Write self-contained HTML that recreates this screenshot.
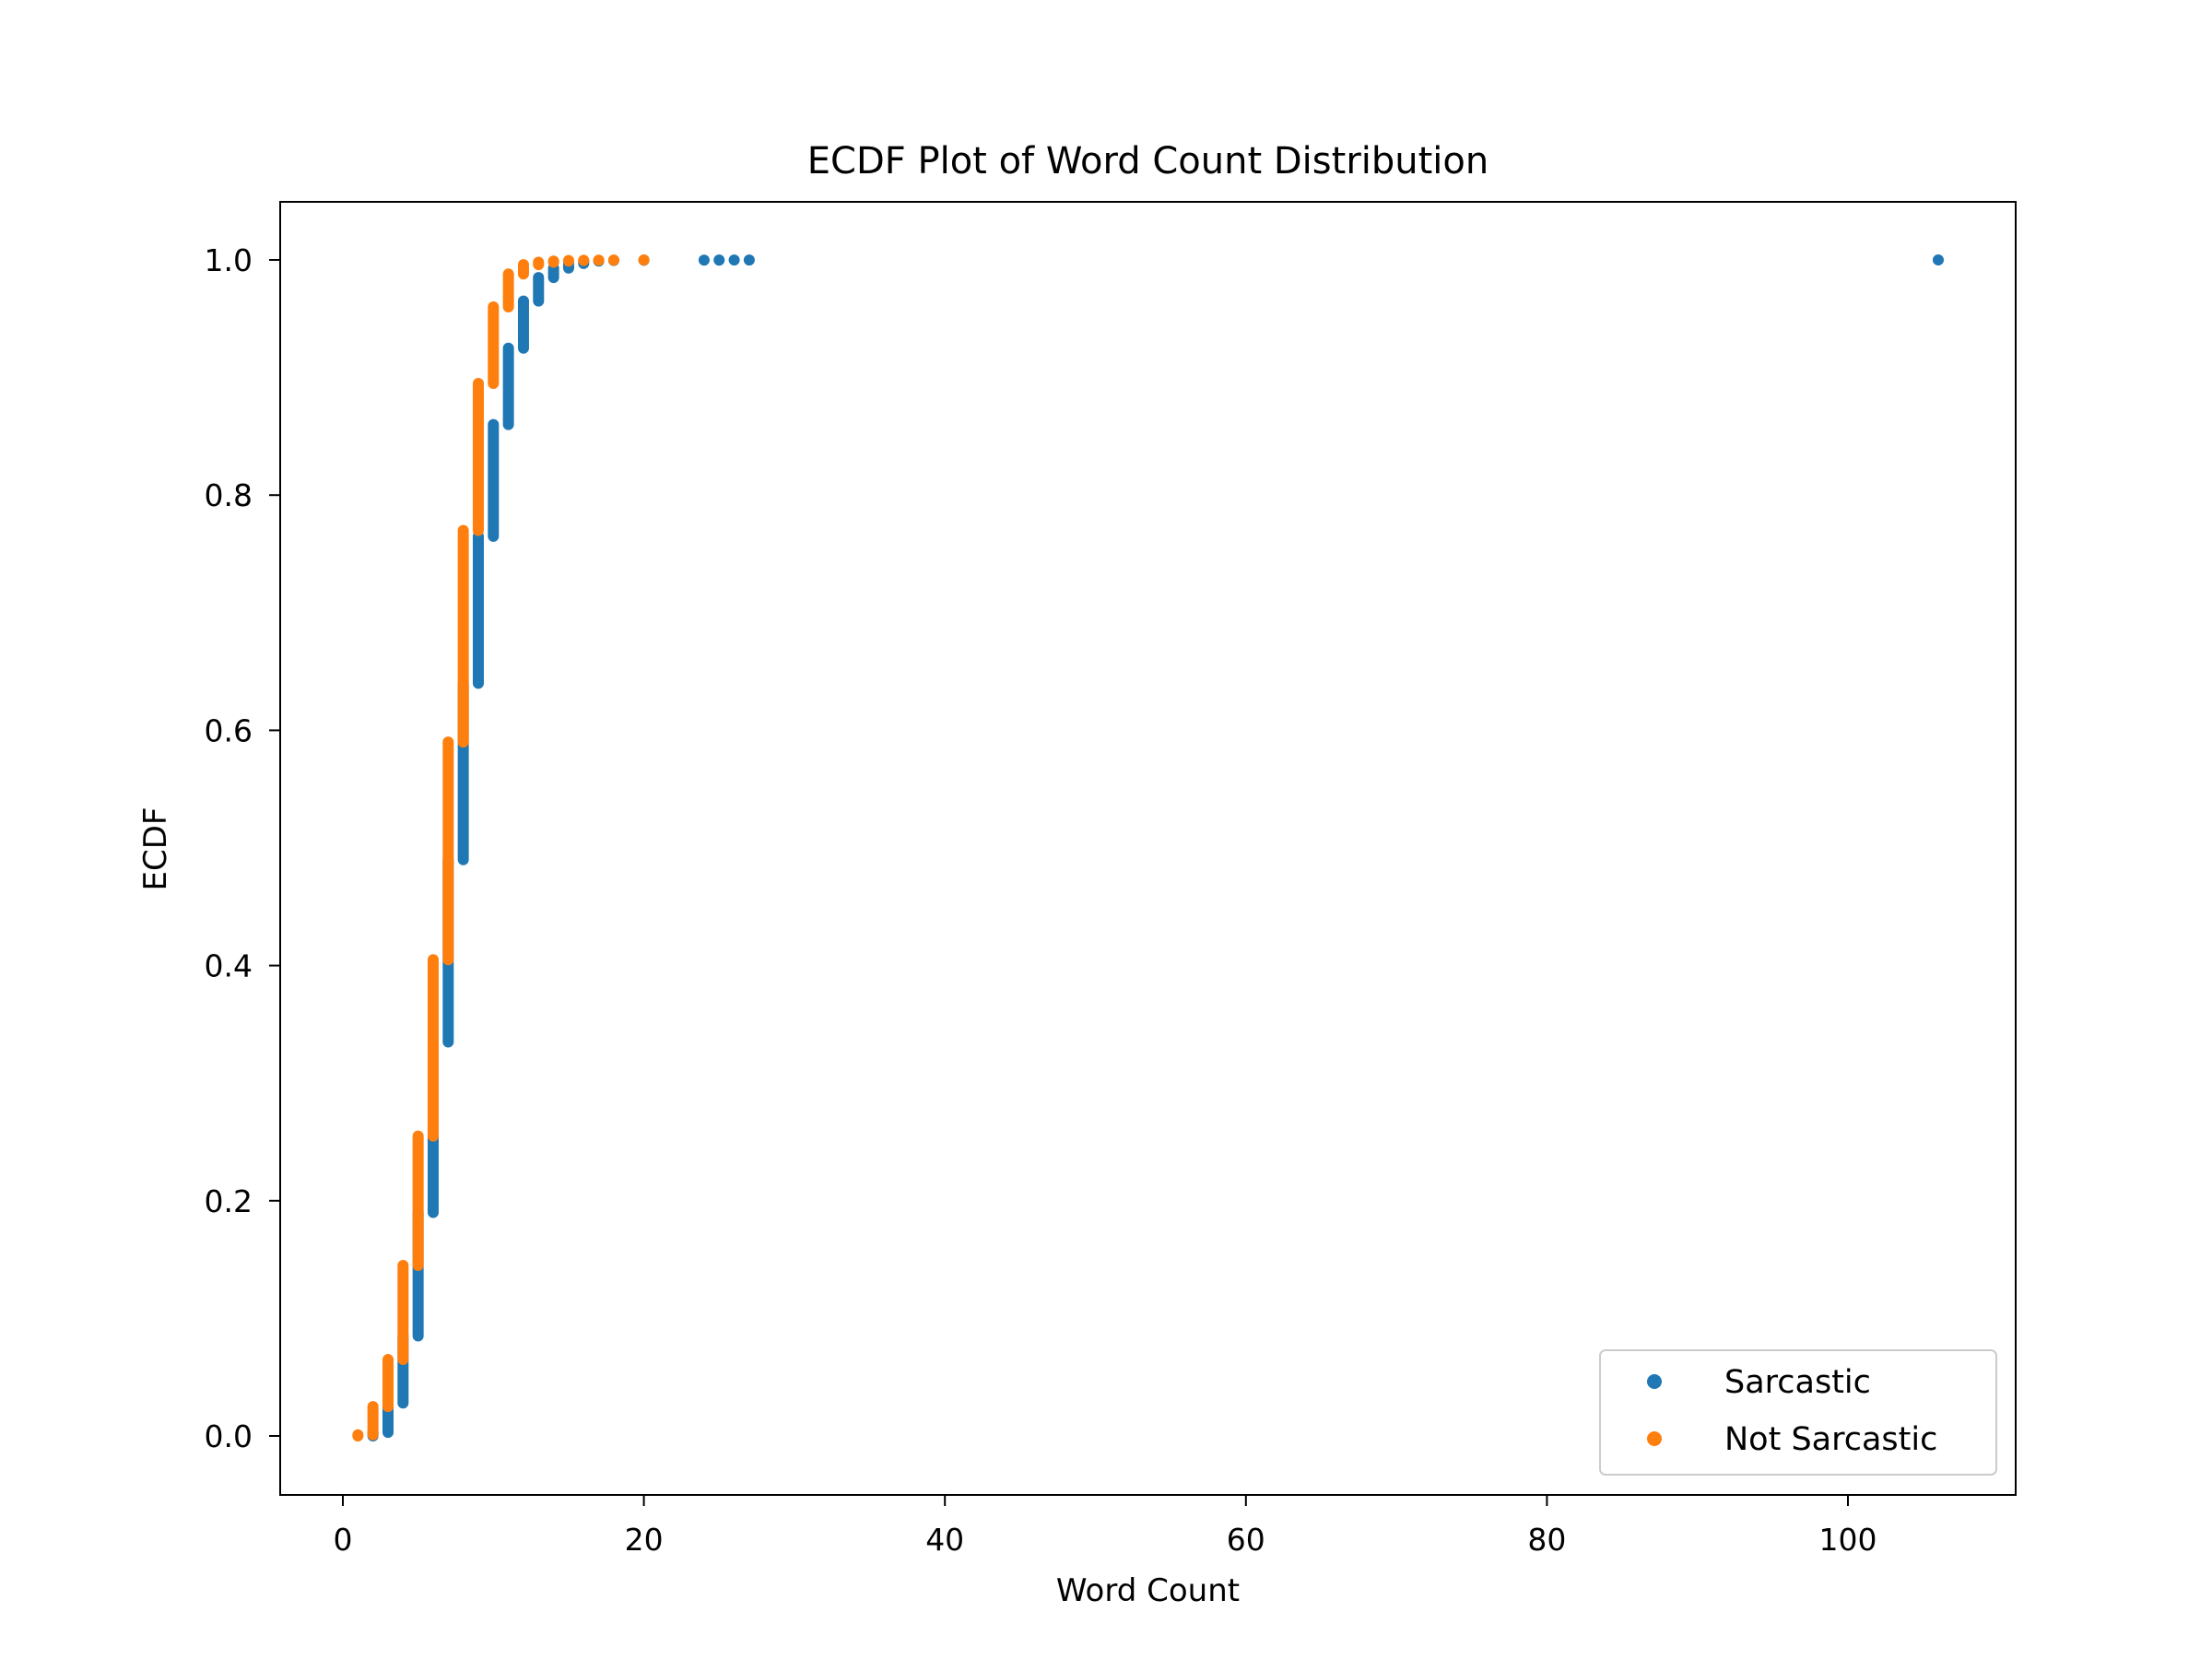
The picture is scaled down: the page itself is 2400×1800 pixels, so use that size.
<!DOCTYPE html>
<html><head><meta charset="utf-8"><style>
html,body{margin:0;padding:0;background:#fff;}
svg{display:block;font-family:"DejaVu Sans","Liberation Sans",sans-serif;}
</style></head><body>
<svg id="chart" width="2400" height="1800" viewBox="0 0 2400 1800" xmlns="http://www.w3.org/2000/svg">
<rect width="2400" height="1800" fill="#fff"/>
<g id="plot"></g>
</svg>
<script>
const sarcCounts=[2,3,4,5,6,7,8,9,10,11,12,13,14,15,16,17,18,20,24,25,26,27,106];
const sarcCdf=[0.003,0.028,0.085,0.19,0.335,0.49,0.64,0.765,0.86,0.925,0.965,0.985,0.993,0.997,0.999,0.9995,0.9997,0.9998,0.9998,0.9999,0.9999,0.99995,1];
const notCounts=[1,2,3,4,5,6,7,8,9,10,11,12,13,14,15,16,17,18,20];
const notCdf=[0.001,0.025,0.065,0.145,0.255,0.405,0.59,0.77,0.895,0.96,0.988,0.996,0.998,0.999,0.9995,0.9997,0.9998,0.9999,1];
const xTicks=[0,20,40,60,80,100];
const yTicks=[0,0.2,0.4,0.6,0.8,1.0];
const yTickLabels=["0.0","0.2","0.4","0.6","0.8","1.0"];
const L=304,R=2187,T=219,B=1622;
const xs=v=>372+v*(2005-372)/100;
const ys=v=>1558-v*(1558-282);
const NS="http://www.w3.org/2000/svg";
const g=document.getElementById('plot');
function mk(tag,attrs,parent){const e=document.createElementNS(NS,tag);for(const k in attrs)e.setAttribute(k,attrs[k]);(parent||g).appendChild(e);return e;}
function series(counts,cdf,color,name){
  const sg=mk('g',{});
  
  
  for(let i=0;i<counts.length;i++){
    const lo=i===0?0:cdf[i-1];
    const hi=cdf[i];
    const l=mk('line',{x1:xs(counts[i]),x2:xs(counts[i]),y1:ys(lo),y2:ys(hi),stroke:color,'stroke-width':12,'stroke-linecap':'round'},sg);
    
    
  }
}
series(sarcCounts,sarcCdf,'#1f77b4','sarcastic');
series(notCounts,notCdf,'#ff7f0e','not-sarcastic');
const frame=mk('rect',{x:L,y:T,width:R-L,height:B-T,fill:'none',stroke:'#000','stroke-width':2});


xTicks.forEach(v=>{
  const x=xs(v);
  mk('line',{x1:x,x2:x,y1:B,y2:B+12,stroke:'#000','stroke-width':2});
  const t=mk('text',{x:x,y:B+60,'font-size':33,'text-anchor':'middle'});
  t.textContent=String(v);
  
  
});
yTicks.forEach((v,i)=>{
  const y=ys(v);
  mk('line',{x1:L-12,x2:L,y1:y,y2:y,stroke:'#000','stroke-width':2});
  const t=mk('text',{x:L-30,y:y+12,'font-size':33,'text-anchor':'end'});
  t.textContent=yTickLabels[i];
  
  
});
const tt=mk('text',{x:(L+R)/2,y:188,'font-size':40,'text-anchor':'middle'});
tt.textContent='ECDF Plot of Word Count Distribution';


const xt=mk('text',{x:(L+R)/2,y:1737,'font-size':34,'text-anchor':'middle'});
xt.textContent='Word Count';


const yt=mk('text',{x:0,y:0,'font-size':34,'text-anchor':'middle',transform:'translate(180,921) rotate(-90)'});
yt.textContent='ECDF';


const lg=mk('g',{});


mk('rect',{x:1736,y:1465,width:430,height:135,rx:6,fill:'#fff',stroke:'#ccc','stroke-width':2},lg);
[['Sarcastic','#1f77b4',1499],['Not Sarcastic','#ff7f0e',1561]].forEach(([n,c,y])=>{
  const e=mk('g',{},lg);
  
  
  mk('circle',{cx:1795,cy:y,r:8,fill:c},e);
  const t=mk('text',{x:1871,y:y+12,'font-size':35},e);
  t.textContent=n;
});
</script>
</body></html>
